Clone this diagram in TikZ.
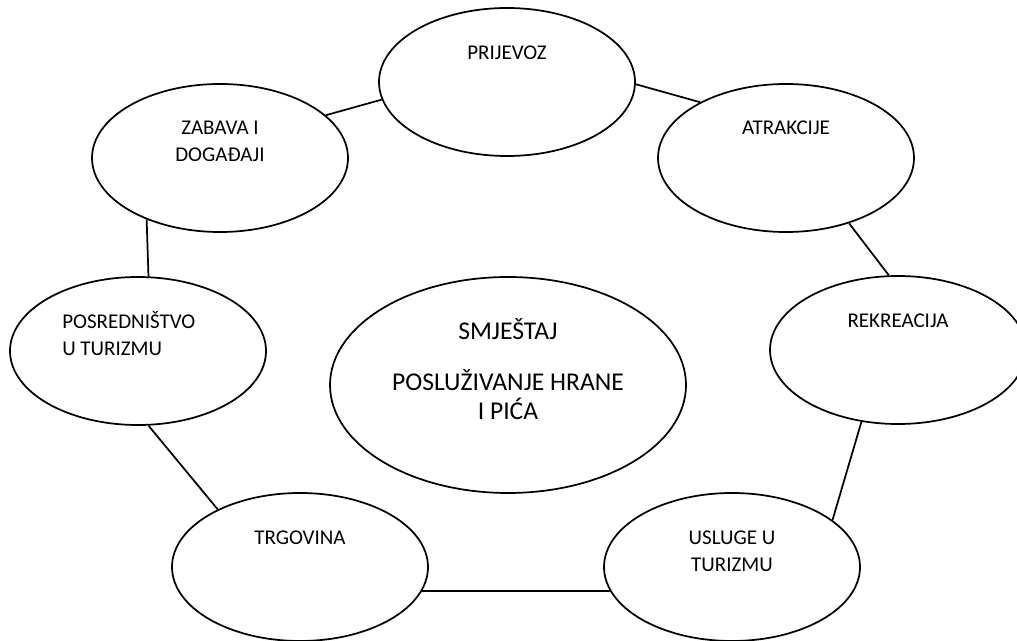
\documentclass[tikz,border=0pt]{standalone}
\usepackage{fontspec}
\setmainfont{Carlito}
\usetikzlibrary{shapes.geometric}

\tikzset{
  blob/.style={draw, ellipse, line width=1.3pt, inner sep=0pt,
    minimum width=192pt, minimum height=111pt},
  bigblob/.style={blob, minimum width=267pt, minimum height=162pt},
  lbl/.style={inner sep=0pt, align=center, font=\fontsize{15.75}{20.25}\selectfont},
  biglbl/.style={lbl, font=\fontsize{19.2}{21.75}\selectfont}
}

\begin{document}
\begin{tikzpicture}[x=0.75pt,y=-0.75pt,every edge/.style={draw,line width=1.3pt}]
  \useasboundingbox (0,0) rectangle (1017,641);

  \node (prijevoz)   [blob]    at (507,82)  {};
  \node (atrakcije)  [blob]    at (786,158) {};
  \node (zabava)     [blob]    at (220,158) {};
  \node (posred)     [blob]    at (138,351) {};
  \node (rekreacija) [blob]    at (898,350) {};
  \node (trgovina)   [blob]    at (300,567) {};
  \node (usluge)     [blob]    at (732,567) {};
  \node (smjestaj)   [bigblob] at (508,385) {};

  % base = last line
  \node (prijevoz-t)   [lbl,anchor=base] at ([shift={(0,-22)}]prijevoz.center)   {PRIJEVOZ};
  \node (atrakcije-t)  [lbl,anchor=base] at ([shift={(0,-23)}]atrakcije.center)  {ATRAKCIJE};
  \node (zabava-t)     [lbl,anchor=base] at ([shift={(0,4)}]zabava.center)       {ZABAVA I\\DOGAĐAJI};
  \node (posred-t)     [lbl,align=left,anchor=base west] at ([shift={(-76,5)}]posred.center) {POSREDNIŠTVO\\U TURIZMU};
  \node (rekreacija-t) [lbl,anchor=base] at ([shift={(0,-22)}]rekreacija.center) {REKREACIJA};
  \node (trgovina-t)   [lbl,anchor=base] at ([shift={(0,-23)}]trgovina.center)   {TRGOVINA};
  \node (usluge-t)     [lbl,anchor=base] at ([shift={(0,4)}]usluge.center)       {USLUGE U\\TURIZMU};
  \node (smjestaj-t)   [biglbl,anchor=base] at ([shift={(0,35)}]smjestaj.center) {SMJEŠTAJ\\[16.5pt]POSLUŽIVANJE HRANE\\I PIĆA};

  \path
  (zabava.22) edge (prijevoz.188)
  (prijevoz.359) edge (atrakcije.147)
  (atrakcije.314) edge (rekreacija.97)
  (rekreacija.243) edge (usluge.25)
  (trgovina.349) edge (usluge.191)
  (posred.278) edge (trgovina.145)
  (zabava.220) edge (posred.82);
\end{tikzpicture}
\end{document}
